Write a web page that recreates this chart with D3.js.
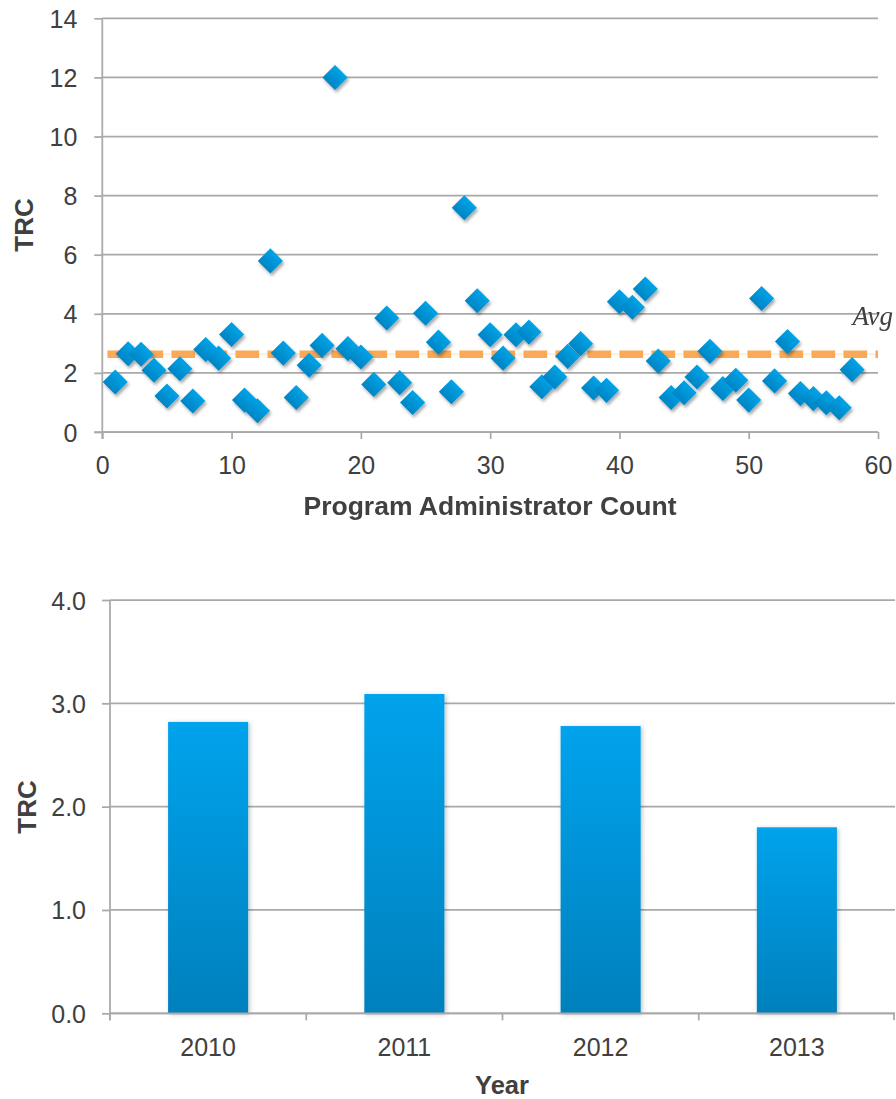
<!DOCTYPE html>
<html>
<head>
<meta charset="utf-8">
<script src="https://cdn.jsdelivr.net/npm/d3@7"></script>
<style>
  html, body { margin: 0; padding: 0; background: #ffffff; }
  svg { display: block; }
  text { font-family: "Liberation Sans", Arial, Helvetica, sans-serif; fill: #404040; }
</style>
</head>
<body>
<svg id="chart" width="896" height="1099"></svg>
<script>
// ---------- DATA ----------
// Scatter: TRC per program administrator (x = administrator count index)
const adminIndex = d3.range(1, 59);
const adminTRC = [
  1.69, 2.65, 2.63, 2.09, 1.22, 2.14, 1.05, 2.79, 2.50, 3.30,
  1.08, 0.72, 5.79, 2.67, 1.17, 2.26, 2.93, 12.0, 2.82, 2.54,
  1.61, 3.86, 1.67, 1.00, 4.02, 3.04, 1.36, 7.59, 4.44, 3.29,
  2.50, 3.29, 3.38, 1.53, 1.86, 2.56, 2.99, 1.49, 1.41, 4.41,
  4.22, 4.84, 2.40, 1.17, 1.33, 1.86, 2.73, 1.47, 1.75, 1.08,
  4.52, 1.73, 3.06, 1.30, 1.13, 0.99, 0.82, 2.11
];
const avgTRC = 2.63;
const avgLineX = [0.4, 60];
const avgLabel = "Avg";
const scatterXTicks = [0, 10, 20, 30, 40, 50, 60];
const scatterYTicks = [0, 2, 4, 6, 8, 10, 12, 14];
const scatterXTitle = "Program Administrator Count";
const scatterYTitle = "TRC";

// Bar chart: TRC by year
const years = ["2010", "2011", "2012", "2013"];
const yearTRC = [2.82, 3.09, 2.78, 1.80];
const barYTicks = [0, 1, 2, 3, 4];
const barXTitle = "Year";
const barYTitle = "TRC";

// ---------- DRAWING ----------
const svg = d3.select("#chart");
const gridColor = "#a9a9a9";
const defs = svg.append("defs");

const dg = defs.append("linearGradient").attr("id", "diamondGrad")
  .attr("x1", 0).attr("y1", 0).attr("x2", 0).attr("y2", 1);
dg.append("stop").attr("offset", "0%").attr("stop-color", "#00a3e6");
dg.append("stop").attr("offset", "100%").attr("stop-color", "#0084c4");

const bg = defs.append("linearGradient").attr("id", "barGrad")
  .attr("x1", 0).attr("y1", 0).attr("x2", 0).attr("y2", 1);
bg.append("stop").attr("offset", "0%").attr("stop-color", "#00a3ec");
bg.append("stop").attr("offset", "100%").attr("stop-color", "#0080bd");

const sh = defs.append("filter").attr("id", "shadow")
  .attr("x", "-30%").attr("y", "-30%").attr("width", "170%").attr("height", "170%");
sh.append("feDropShadow").attr("dx", 1.5).attr("dy", 2.5).attr("stdDeviation", 1.6)
  .attr("flood-color", "#000").attr("flood-opacity", 0.35);

const bsh = defs.append("filter").attr("id", "barShadow")
  .attr("x", "-10%").attr("y", "-5%").attr("width", "125%").attr("height", "110%");
bsh.append("feDropShadow").attr("dx", 1.5).attr("dy", 1).attr("stdDeviation", 2)
  .attr("flood-color", "#000").attr("flood-opacity", 0.25);

function styleAxis(g) {
  g.selectAll(".domain").remove();
  g.selectAll(".tick line").attr("stroke", gridColor).attr("stroke-width", 1.75);
  g.selectAll(".tick text").style("font-size", "25px").attr("fill", "#404040")
    .style("font-family", '"Liberation Sans", Arial, sans-serif');
}

// ===== Scatter =====
const sx = d3.scaleLinear().domain([0, 60]).range([102.3, 878]);
const sy = d3.scaleLinear().domain([0, 14]).range([432, 18.3]);

// horizontal gridlines
svg.append("g").selectAll("line").data(scatterYTicks).join("line")
  .attr("x1", sx(0)).attr("x2", sx(60))
  .attr("y1", d => sy(d)).attr("y2", d => sy(d))
  .attr("stroke", gridColor).attr("stroke-width", 1.75);

// y axis
const syAxis = svg.append("g").attr("transform", `translate(${sx(0)},0)`)
  .call(d3.axisLeft(sy).tickValues(scatterYTicks).tickSize(8).tickPadding(17).tickFormat(d3.format("d")));
styleAxis(syAxis);
syAxis.selectAll(".tick text").attr("dy", "0.36em");

// x axis
const sxAxis = svg.append("g").attr("transform", `translate(0,${sy(0)})`)
  .call(d3.axisBottom(sx).tickValues(scatterXTicks).tickSize(7).tickPadding(17).tickFormat(d3.format("d")));
styleAxis(sxAxis);

// axis lines
svg.append("line").attr("x1", sx(0)).attr("x2", sx(0)).attr("y1", sy(14)).attr("y2", sy(0) + 7)
  .attr("stroke", gridColor).attr("stroke-width", 1.75);
svg.append("line").attr("x1", sx(0) - 8).attr("x2", sx(60)).attr("y1", sy(0)).attr("y2", sy(0))
  .attr("stroke", gridColor).attr("stroke-width", 1.75);

// avg line
svg.append("line")
  .attr("x1", sx(avgLineX[0])).attr("x2", sx(avgLineX[1]))
  .attr("y1", sy(avgTRC)).attr("y2", sy(avgTRC))
  .attr("stroke", "#fbeee0").attr("stroke-width", 2);
svg.append("line")
  .attr("x1", sx(avgLineX[0])).attr("x2", sx(avgLineX[1]))
  .attr("y1", sy(avgTRC)).attr("y2", sy(avgTRC))
  .attr("stroke", "#f9a957").attr("stroke-width", 7.5)
  .attr("stroke-dasharray", "23.7 8.3");

// diamonds
const diamond = d3.symbol().type(d3.symbolSquare).size(315);
svg.append("g").attr("filter", "url(#shadow)")
  .selectAll("path").data(adminIndex.map((x, i) => ({ x, y: adminTRC[i] }))).join("path")
  .attr("d", diamond)
  .attr("transform", d => `translate(${sx(d.x)},${sy(d.y)}) rotate(45)`)
  .attr("fill", "url(#diamondGrad)");

// avg label
svg.append("text").attr("x", 893).attr("y", 325).attr("text-anchor", "end")
  .style("font-family", '"Liberation Serif", "Times New Roman", serif')
  .style("font-style", "italic").style("font-size", "27px").attr("fill", "#111")
  .text(avgLabel);

// titles
svg.append("text").attr("x", 490).attr("y", 515).attr("text-anchor", "middle")
  .style("font-weight", "bold").style("font-size", "26.5px").text(scatterXTitle);
svg.append("text").attr("transform", "translate(33,225) rotate(-90)").attr("text-anchor", "middle")
  .style("font-weight", "bold").style("font-size", "26px").text(scatterYTitle);

// ===== Bar chart =====
const bx = d3.scaleBand().domain(years).range([110, 895]).paddingInner(0.592).paddingOuter(0.296);
const by = d3.scaleLinear().domain([0, 4]).range([1013.3, 600]);

svg.append("g").selectAll("line").data(barYTicks).join("line")
  .attr("x1", 110).attr("x2", 895)
  .attr("y1", d => by(d)).attr("y2", d => by(d))
  .attr("stroke", gridColor).attr("stroke-width", 1.75);

const byAxis = svg.append("g").attr("transform", "translate(110,0)")
  .call(d3.axisLeft(by).tickValues(barYTicks).tickSize(8).tickPadding(16).tickFormat(d3.format(".1f")));
styleAxis(byAxis);
byAxis.selectAll(".tick text").attr("dy", "0.36em");

svg.append("line").attr("x1", 110).attr("x2", 110).attr("y1", by(4)).attr("y2", by(0) + 7)
  .attr("stroke", gridColor).attr("stroke-width", 1.75);

// bars
svg.append("g").attr("filter", "url(#barShadow)")
  .selectAll("rect").data(years.map((y, i) => ({ y, v: yearTRC[i] }))).join("rect")
  .attr("x", d => bx(d.y)).attr("width", bx.bandwidth())
  .attr("y", d => by(d.v)).attr("height", d => by(0) - by(d.v))
  .attr("fill", "url(#barGrad)");

// x axis line + boundary ticks
svg.append("line").attr("x1", 110).attr("x2", 895).attr("y1", by(0)).attr("y2", by(0))
  .attr("stroke", gridColor).attr("stroke-width", 1.75);
const r0 = bx.range()[0];
svg.append("g").selectAll("line").data(d3.range(years.length + 1)).join("line")
  .attr("x1", i => Math.min(r0 + i * bx.step(), 894)).attr("x2", i => Math.min(r0 + i * bx.step(), 894))
  .attr("y1", by(0)).attr("y2", by(0) + 7)
  .attr("stroke", gridColor).attr("stroke-width", 1.75);

svg.append("g").selectAll("text").data(years).join("text")
  .attr("x", d => bx(d) + bx.bandwidth() / 2).attr("y", 1056)
  .attr("text-anchor", "middle").style("font-size", "25px").text(d => d);

svg.append("text").attr("x", 502).attr("y", 1094).attr("text-anchor", "middle")
  .style("font-weight", "bold").style("font-size", "25.5px").text(barXTitle);
svg.append("text").attr("transform", "translate(36,807) rotate(-90)").attr("text-anchor", "middle")
  .style("font-weight", "bold").style("font-size", "26px").text(barYTitle);
</script>
</body>
</html>
